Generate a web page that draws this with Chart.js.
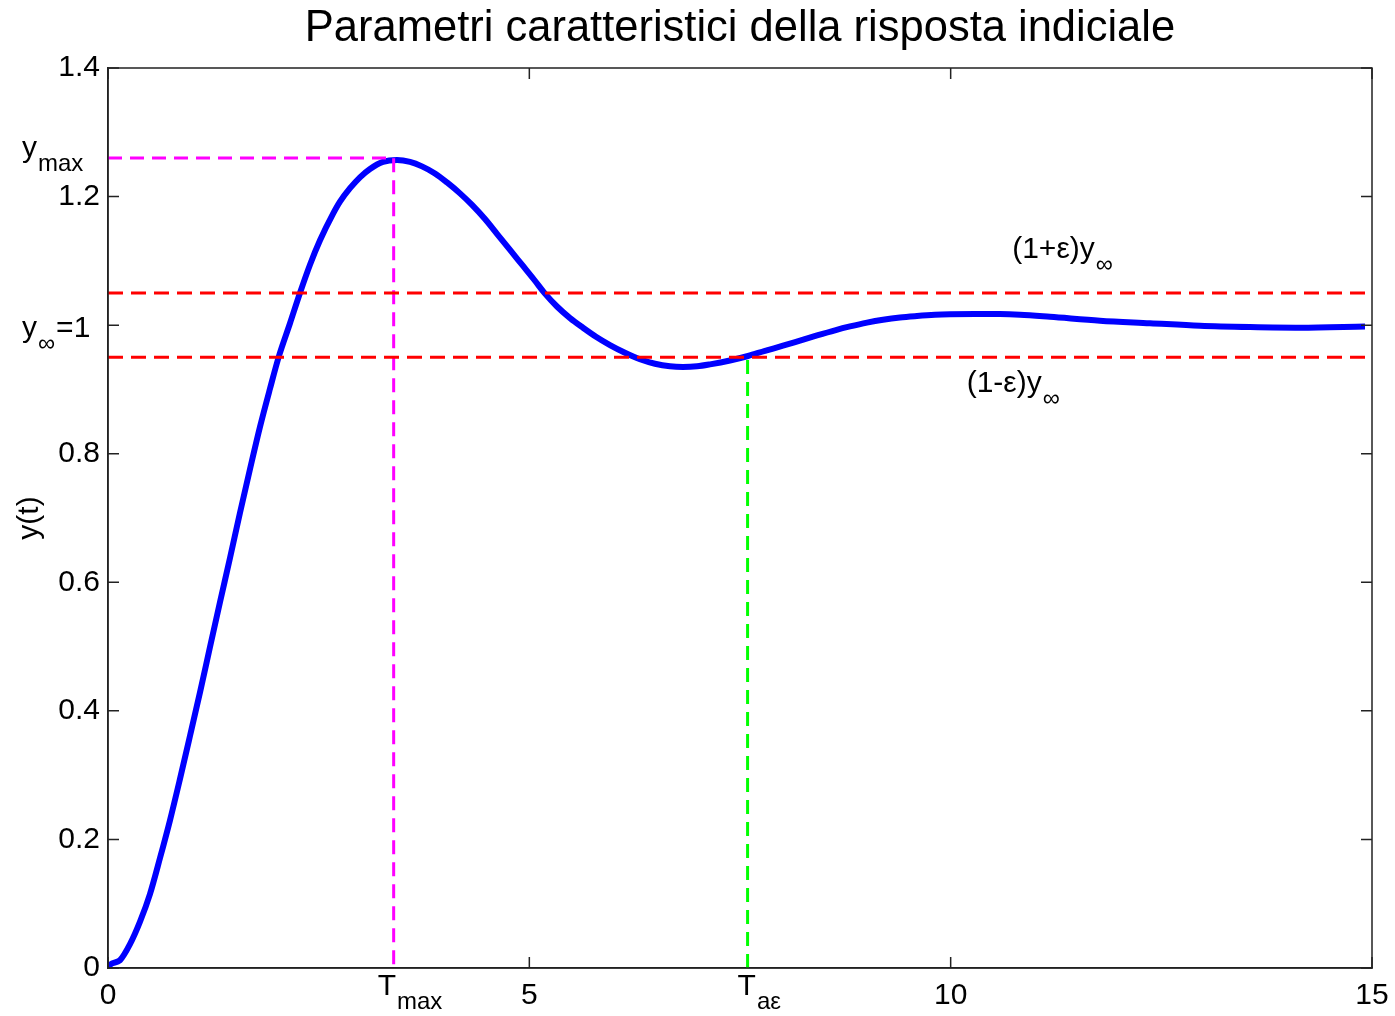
<!DOCTYPE html>
<html>
<head>
<meta charset="utf-8">
<title>Parametri caratteristici della risposta indiciale</title>
<script src="https://cdn.jsdelivr.net/npm/chart.js@4.4.1/dist/chart.umd.min.js"></script>
<style>
  html, body { margin: 0; padding: 0; background: #fff; }
</style>
</head>
<body>
<canvas id="step" width="1395" height="1016"></canvas>
<script>
// step response
const tValues = [0, 0.024, 0.142, 0.261, 0.380, 0.498, 0.617, 0.736, 0.854, 0.973, 1.092, 1.210, 1.329,
  1.448, 1.566, 1.685, 1.804, 1.922, 2.029, 2.160, 2.278, 2.397, 2.516, 2.670, 2.753, 2.872, 2.990, 3.109,
  3.263, 3.430, 3.584, 3.726, 3.880, 4.023, 4.177, 4.320, 4.474, 4.616, 4.771, 4.913, 5.055, 5.186, 5.328,
  5.483, 5.637, 5.791, 5.957, 6.135, 6.313, 6.491, 6.669, 6.823, 6.990, 7.144, 7.381, 7.595, 7.797, 8.010,
  8.212, 8.414, 8.627, 8.805, 9.007, 9.197, 9.398, 9.600, 9.814, 9.992, 10.289, 10.585, 10.823, 11.179,
  11.772, 12.365, 12.959, 13.552, 14.146, 14.917];
const yValues = [0, 0.005, 0.012, 0.037, 0.072, 0.115, 0.171, 0.230, 0.294, 0.361, 0.429, 0.499, 0.569,
  0.638, 0.708, 0.776, 0.842, 0.901, 0.952, 1.003, 1.050, 1.094, 1.132, 1.173, 1.192, 1.213, 1.230, 1.243,
  1.254, 1.257, 1.254, 1.247, 1.236, 1.222, 1.205, 1.187, 1.165, 1.142, 1.117, 1.094, 1.071, 1.049, 1.029,
  1.011, 0.996, 0.982, 0.969, 0.957, 0.947, 0.940, 0.936, 0.935, 0.936, 0.939, 0.945, 0.952, 0.960, 0.968,
  0.976, 0.984, 0.992, 0.998, 1.004, 1.0085, 1.012, 1.0142, 1.016, 1.0168, 1.0173, 1.0172, 1.0162, 1.013,
  1.007, 1.003, 0.999, 0.997, 0.996, 0.998];

const xTicks = [0, 5, 10, 15];
const yTicks = [0, 0.2, 0.4, 0.6, 0.8, 1.2, 1.4];
const yInf = 1;
const bandHigh = 1.05;
const bandLow = 0.95;
const yMax = 1.26;
const tMax = 3.39;
const tAe = 7.59;
const yAtTae = 0.952;
const tEnd = 15;

const fam = "'Liberation Sans', Arial, Helvetica, sans-serif";
Chart.defaults.font.family = fam;
Chart.defaults.color = '#000';

const curve = tValues.map((t, i) => ({x: t, y: yValues[i]}));

// text with a subscript, like T_max
function subText(ctx, x, y, main, sub, tail) {
  ctx.font = '30px ' + fam;
  ctx.fillText(main, x, y);
  let w = ctx.measureText(main).width;
  ctx.font = '24px ' + fam;
  ctx.fillText(sub, x + w + 1, y + 14);
  if (tail) {
    let w2 = ctx.measureText(sub).width;
    ctx.font = '30px ' + fam;
    ctx.fillText(tail, x + w + w2 + 2, y);
  }
}

const overlay = {
  id: 'overlay',
  afterDatasetsDraw(chart) {
    const ctx = chart.ctx;
    const a = chart.chartArea;
    const xs = chart.scales.x, ys = chart.scales.y;
    ctx.save();
    // box
    ctx.strokeStyle = '#222';
    ctx.lineWidth = 1.5;
    ctx.strokeRect(a.left, a.top, a.right - a.left, a.bottom - a.top);
    // inner ticks on all four sides
    const tl = 11;
    ctx.beginPath();
    xTicks.forEach(v => {
      const px = xs.getPixelForValue(v);
      ctx.moveTo(px, a.bottom); ctx.lineTo(px, a.bottom - tl);
      ctx.moveTo(px, a.top); ctx.lineTo(px, a.top + tl);
    });
    yTicks.concat([yInf]).forEach(v => {
      const py = ys.getPixelForValue(v);
      ctx.moveTo(a.left, py); ctx.lineTo(a.left + tl, py);
      ctx.moveTo(a.right, py); ctx.lineTo(a.right - tl, py);
    });
    ctx.stroke();
    ctx.restore();
  },
  afterDraw(chart) {
    const ctx = chart.ctx;
    const a = chart.chartArea;
    const xs = chart.scales.x, ys = chart.scales.y;
    ctx.save();
    ctx.fillStyle = '#000';
    ctx.textBaseline = 'alphabetic';
    ctx.textAlign = 'left';
    // special tick labels
    subText(ctx, xs.getPixelForValue(tMax) - 16, a.bottom + 27, 'T', 'max');
    subText(ctx, xs.getPixelForValue(tAe) - 10, a.bottom + 27, 'T', 'aε');
    subText(ctx, 22, ys.getPixelForValue(yMax) - 1, 'y', 'max');
    subText(ctx, 22, ys.getPixelForValue(yInf) + 12, 'y', '∞', '=1');
    // band labels
    subText(ctx, xs.getPixelForValue(10.73), ys.getPixelForValue(1.104), '(1+ε)y', '∞');
    subText(ctx, xs.getPixelForValue(10.19), ys.getPixelForValue(0.896), '(1-ε)y', '∞');
    ctx.restore();
  }
};

new Chart(document.getElementById('step'), {
  type: 'scatter',
  data: {
    datasets: [
      {
        label: 'y(t)',
        data: curve,
        showLine: true,
        borderColor: '#0000ff',
        borderWidth: 6,
        pointRadius: 0,
        cubicInterpolationMode: 'monotone',
        order: 3
      },
      {
        label: '(1+ε)y∞',
        data: [{x: 0, y: bandHigh}, {x: tEnd, y: bandHigh}],
        showLine: true, borderColor: '#ff0000', borderWidth: 3, borderDash: [15, 8], pointRadius: 0, order: 1
      },
      {
        label: '(1-ε)y∞',
        data: [{x: 0, y: bandLow}, {x: tEnd, y: bandLow}],
        showLine: true, borderColor: '#ff0000', borderWidth: 3, borderDash: [15, 8], pointRadius: 0, order: 1
      },
      {
        label: 'ymax',
        data: [{x: 0, y: yMax}, {x: tMax, y: yMax}, {x: tMax, y: 0}],
        showLine: true, borderColor: '#ff00ff', borderWidth: 3, borderDash: [14, 8], pointRadius: 0, order: 2
      },
      {
        label: 'Taε',
        data: [{x: tAe, y: 0}, {x: tAe, y: yAtTae}],
        showLine: true, borderColor: '#00ff00', borderWidth: 3, borderDash: [14, 8], pointRadius: 0, order: 4
      }
    ]
  },
  options: {
    responsive: false,
    animation: false,
    layout: { padding: { right: 23 } },
    plugins: {
      legend: { display: false },
      tooltip: { enabled: false },
      title: {
        display: true,
        fullSize: false,
        text: 'Parametri caratteristici della risposta indiciale',
        color: '#000',
        font: { size: 43.5, weight: 'normal', lineHeight: 1.2 },
        padding: { top: 3, bottom: 12.8 }
      }
    },
    scales: {
      x: {
        type: 'linear',
        min: 0, max: tEnd,
        afterBuildTicks: s => { s.ticks = xTicks.map(v => ({value: v})); },
        afterFit: s => { s.height = 48; s.paddingLeft = 0; s.paddingRight = 0; },
        grid: { display: false, drawTicks: false },
        border: { display: true, color: '#222', width: 1.5 },
        ticks: { color: '#000', font: { size: 30 }, padding: 10, maxRotation: 0, autoSkip: false }
      },
      y: {
        type: 'linear',
        min: 0, max: 1.4,
        afterBuildTicks: s => { s.ticks = yTicks.map(v => ({value: v})); },
        afterFit: s => { s.width = 108; s.paddingTop = 0; s.paddingBottom = 0; },
        grid: { display: false, drawTicks: false },
        border: { display: true, color: '#222', width: 1.5 },
        ticks: { color: '#000', font: { size: 30 }, padding: 8, autoSkip: false,
          callback: v => String(v) },
        title: { display: true, text: 'y(t)', color: '#000', font: { size: 30 }, padding: { top: 12 } }
      }
    }
  },
  plugins: [overlay]
});
</script>
</body>
</html>
